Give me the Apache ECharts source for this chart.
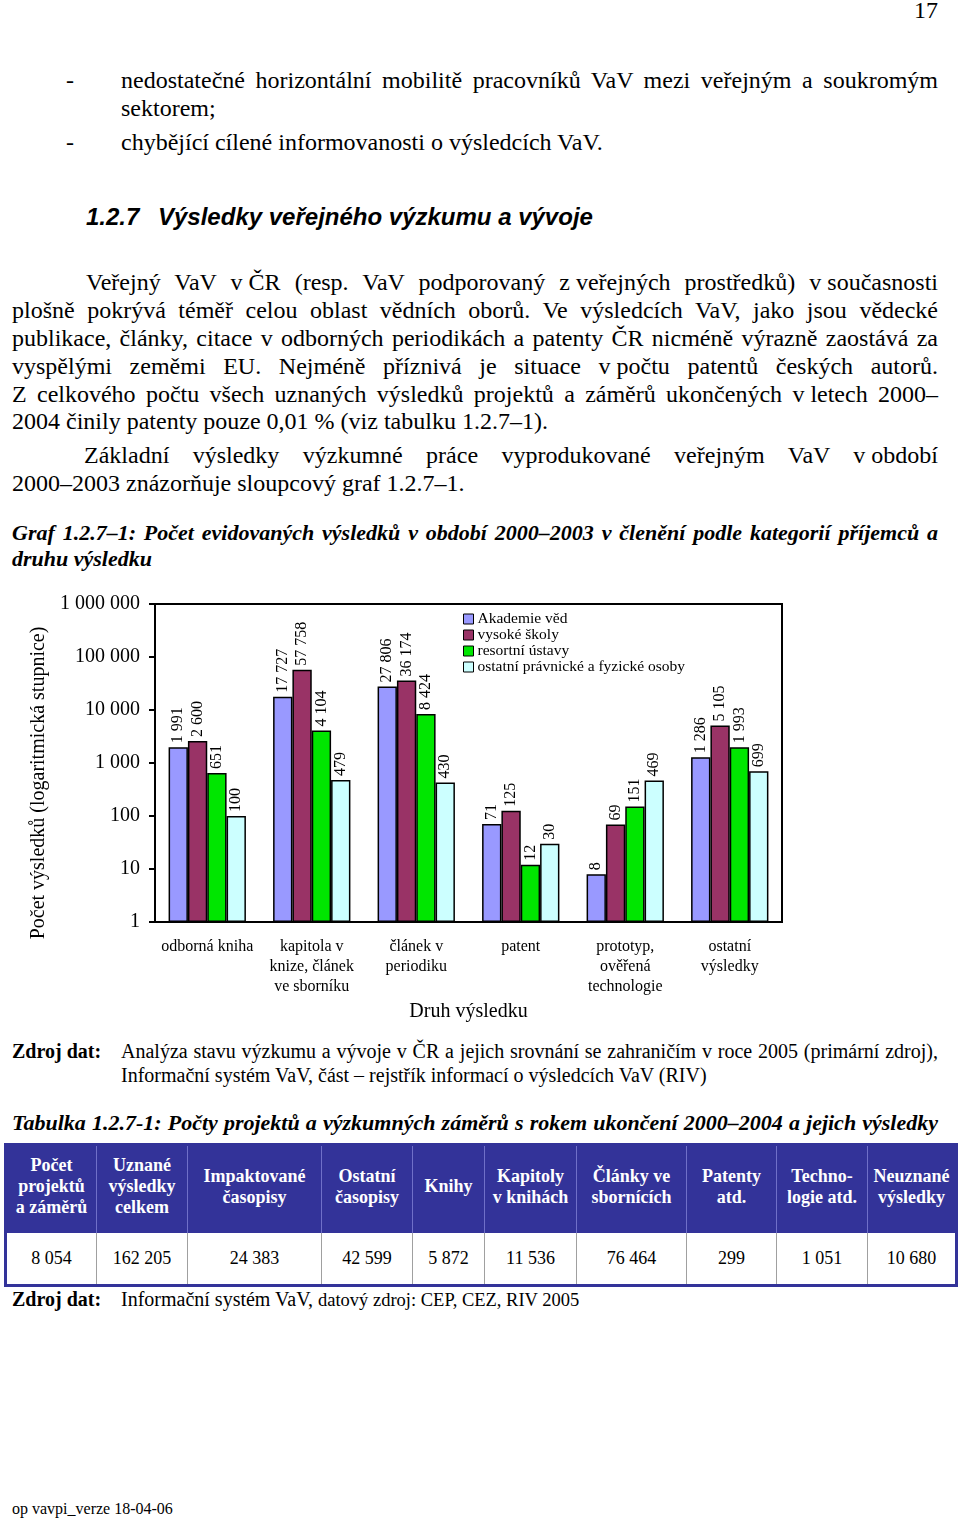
<!DOCTYPE html>
<html><head><meta charset="utf-8">
<script src="https://cdn.jsdelivr.net/npm/echarts@6/dist/echarts.min.js"></script>
<style>
html,body{margin:0;padding:0;background:#fff;}
body{width:960px;height:1520px;position:relative;overflow:hidden;font-family:"Liberation Serif","Times New Roman",serif;color:#000;}
.l{position:absolute;white-space:nowrap;font-size:24px;line-height:28px;}
.j{text-align:justify;text-align-last:justify;white-space:normal;}
.ib{display:inline-block;}
.h{font-family:"Liberation Sans",Arial,sans-serif;font-weight:bold;font-style:italic;}
.cap{font-size:22px;line-height:26px;font-weight:bold;font-style:italic;}
.src{font-size:20px;line-height:24px;}
.b{font-weight:bold;}
#chart{position:absolute;left:0;top:590px;width:960px;height:440px;}
#tbl{position:absolute;left:4px;top:1143px;border-collapse:collapse;table-layout:fixed;width:951px;border:3px solid #333399;}
#tbl th{background:#333399;color:#fff;font-weight:bold;font-size:18px;line-height:21px;height:81px;padding:0 0 6px 0;text-align:center;white-space:pre-line;border-left:1px solid #7070c8;}
#tbl td{background:#fff;font-size:18px;height:51px;padding:0;text-align:center;border-left:1px solid #a0a0a0;}
</style></head>
<body>
<div class="l" style="left:914px;top:-4px">17</div>

<div class="l" style="left:66px;top:66px">-</div>
<div class="l j" style="left:121px;top:66px;width:817px">nedostatečné horizontální mobilitě pracovníků VaV mezi veřejným a soukromým</div>
<div class="l" style="left:121px;top:94px">sektorem;</div>
<div class="l" style="left:66px;top:128px">-</div>
<div class="l" style="left:121px;top:128px">chybějící cílené informovanosti o výsledcích VaV.</div>

<div class="l h" style="left:86px;top:203px">1.2.7</div>
<div class="l h" style="left:158px;top:203px">Výsledky veřejného výzkumu a vývoje</div>

<div class="l j" style="left:86px;top:268px;width:852px">Veřejný VaV <span class="ib">v&nbsp;ČR</span> (resp. VaV podporovaný <span class="ib">z&nbsp;veřejných</span> prostředků) <span class="ib">v&nbsp;současnosti</span></div>
<div class="l j" style="left:12px;top:296px;width:926px">plošně pokrývá téměř celou oblast vědních oborů. Ve výsledcích VaV, jako jsou vědecké</div>
<div class="l j" style="left:12px;top:324px;width:926px">publikace, články, citace v odborných periodikách a patenty ČR nicméně výrazně zaostává za</div>
<div class="l j" style="left:12px;top:352px;width:926px">vyspělými zeměmi EU. Nejméně příznivá je situace <span class="ib">v&nbsp;počtu</span> patentů českých autorů.</div>
<div class="l j" style="left:12px;top:380px;width:926px">Z celkového počtu všech uznaných výsledků projektů a záměrů ukončených <span class="ib">v&nbsp;letech</span> 2000–</div>
<div class="l" style="left:12px;top:407px">2004 činily patenty pouze 0,01 % (viz tabulku 1.2.7–1).</div>
<div class="l j" style="left:84px;top:441px;width:854px">Základní výsledky výzkumné práce vyprodukované veřejným VaV <span class="ib">v&nbsp;období</span></div>
<div class="l" style="left:12px;top:469px">2000–2003 znázorňuje sloupcový graf 1.2.7–1.</div>

<div class="l j cap" style="left:12px;top:520px;width:926px">Graf 1.2.7–1: Počet evidovaných výsledků v období 2000–2003 v členění podle kategorií příjemců a</div>
<div class="l cap" style="left:12px;top:546px">druhu výsledku</div>

<div id="chart"></div>

<div class="l src b" style="left:12px;top:1039px">Zdroj dat:</div>
<div class="l src j" style="left:121px;top:1039px;width:817px">Analýza stavu výzkumu a vývoje v ČR a jejich srovnání se zahraničím v roce 2005 (primární zdroj),</div>
<div class="l src" style="left:121px;top:1063px">Informační systém VaV, část – rejstřík informací o výsledcích VaV (RIV)</div>

<div class="l cap j" style="left:12px;top:1110px;width:926px">Tabulka 1.2.7-1: Počty projektů a výzkumných záměrů s rokem ukončení 2000–2004 a jejich výsledky</div>

<table id="tbl"><colgroup id="cols"></colgroup><tr id="hrow"></tr><tr id="vrow"></tr></table>

<div class="l src b" style="left:12px;top:1287px">Zdroj dat:</div>
<div class="l src" style="left:121px;top:1287px">Informační systém VaV, <span style="font-size:18.5px">datový zdroj: CEP, CEZ, RIV 2005</span></div>

<div class="l" style="left:12px;top:1499px;font-size:16px;line-height:20px">op vavpi_verze 18-04-06</div>

<script>
// ---- chart data ----
const categories = ['odborná kniha', 'kapitola v\nknize, článek\nve sborníku', 'článek v\nperiodiku', 'patent', 'prototyp,\nověřená\ntechnologie', 'ostatní\nvýsledky'];
const seriesNames = ['Akademie věd', 'vysoké školy', 'resortní ústavy', 'ostatní právnické a fyzické osoby'];
const akademieVed = [1991, 17727, 27806, 71, 8, 1286];
const vysokeSkoly = [2600, 57758, 36174, 125, 69, 5105];
const resortniUstavy = [651, 4104, 8424, 12, 151, 1993];
const ostatniOsoby = [100, 479, 430, 30, 469, 699];
const yTickValues = [1, 10, 100, 1000, 10000, 100000, 1000000];

// ---- table data ----
const tableHeaders = ['Počet\nprojektů\na záměrů', 'Uznané\nvýsledky\ncelkem', 'Impaktované\nčasopisy', 'Ostatní\nčasopisy', 'Knihy', 'Kapitoly\nv knihách', 'Články ve\nsbornících', 'Patenty\natd.', 'Techno-\nlogie atd.', 'Neuznané\nvýsledky'];
const tableValues = ['8 054', '162 205', '24 383', '42 599', '5 872', '11 536', '76 464', '299', '1 051', '10 680'];

const colWidths = [91, 91, 134, 91, 72, 92, 110, 90, 91, 89];
const seriesColors = ['#9999FF', '#993366', '#00E600', '#CCFFFF'];
const seriesData = [akademieVed, vysokeSkoly, resortniUstavy, ostatniOsoby];

function fmt(v) {
  return String(Math.round(v)).replace(/\B(?=(\d{3})+(?!\d))/g, ' ');
}

// build table
const cols = document.getElementById('cols');
const hrow = document.getElementById('hrow');
const vrow = document.getElementById('vrow');
tableHeaders.forEach((h, i) => {
  const c = document.createElement('col'); c.style.width = colWidths[i] + 'px'; cols.appendChild(c);
  const th = document.createElement('th'); th.textContent = h; hrow.appendChild(th);
  const td = document.createElement('td'); td.textContent = tableValues[i]; vrow.appendChild(td);
});

const chart = echarts.init(document.getElementById('chart'), null, {renderer: 'canvas'});
const serif = 'Liberation Serif';
chart.setOption({
  animation: false,
  textStyle: {fontFamily: serif},
  grid: {left: 155, top: 14, width: 627, height: 318, show: true, borderColor: '#000', borderWidth: 2, backgroundColor: 'transparent'},
  legend: {
    orient: 'vertical', left: 463, top: 21, padding: 0, itemGap: 0,
    itemWidth: 10, itemHeight: 10, icon: 'rect',
    itemStyle: {borderColor: '#000', borderWidth: 1},
    textStyle: {fontFamily: serif, fontSize: 15.5, lineHeight: 15.5, color: '#000', padding: [0, 0, 0, -1]},
    data: seriesNames
  },
  xAxis: {
    type: 'category', data: categories,
    name: 'Druh výsledku', nameLocation: 'middle', nameGap: 74,
    nameTextStyle: {fontFamily: serif, fontSize: 20, color: '#000'},
    axisLine: {lineStyle: {color: '#000', width: 2}},
    axisTick: {length: 5, lineStyle: {color: '#000', width: 2}},
    axisLabel: {interval: 0, fontFamily: serif, fontSize: 16, lineHeight: 20, color: '#000', margin: 15}
  },
  yAxis: {
    type: 'log', logBase: 10, min: yTickValues[0], max: yTickValues[yTickValues.length - 1],
    name: 'Počet výsledků (logaritmická stupnice)', nameLocation: 'middle', nameGap: 105,
    nameTextStyle: {fontFamily: serif, fontSize: 20, color: '#000', padding: [0, 40, 0, 0]},
    axisLine: {show: true, lineStyle: {color: '#000', width: 2}},
    axisTick: {show: true, length: 6, lineStyle: {color: '#000', width: 2}},
    axisLabel: {fontFamily: serif, fontSize: 20, color: '#000', margin: 15, formatter: fmt},
    splitLine: {show: false}
  },
  series: seriesNames.map((name, i) => ({
    name, type: 'bar', data: seriesData[i],
    barGap: '0%', barCategoryGap: '26%',
    itemStyle: {color: seriesColors[i], borderColor: '#000', borderWidth: 1.5},
    label: {
      show: true, position: 'top', rotate: 90, align: 'left', verticalAlign: 'middle', distance: 4,
      fontFamily: serif, fontSize: 16, color: '#000', formatter: p => fmt(p.value)
    }
  }))
});
</script>
</body></html>
